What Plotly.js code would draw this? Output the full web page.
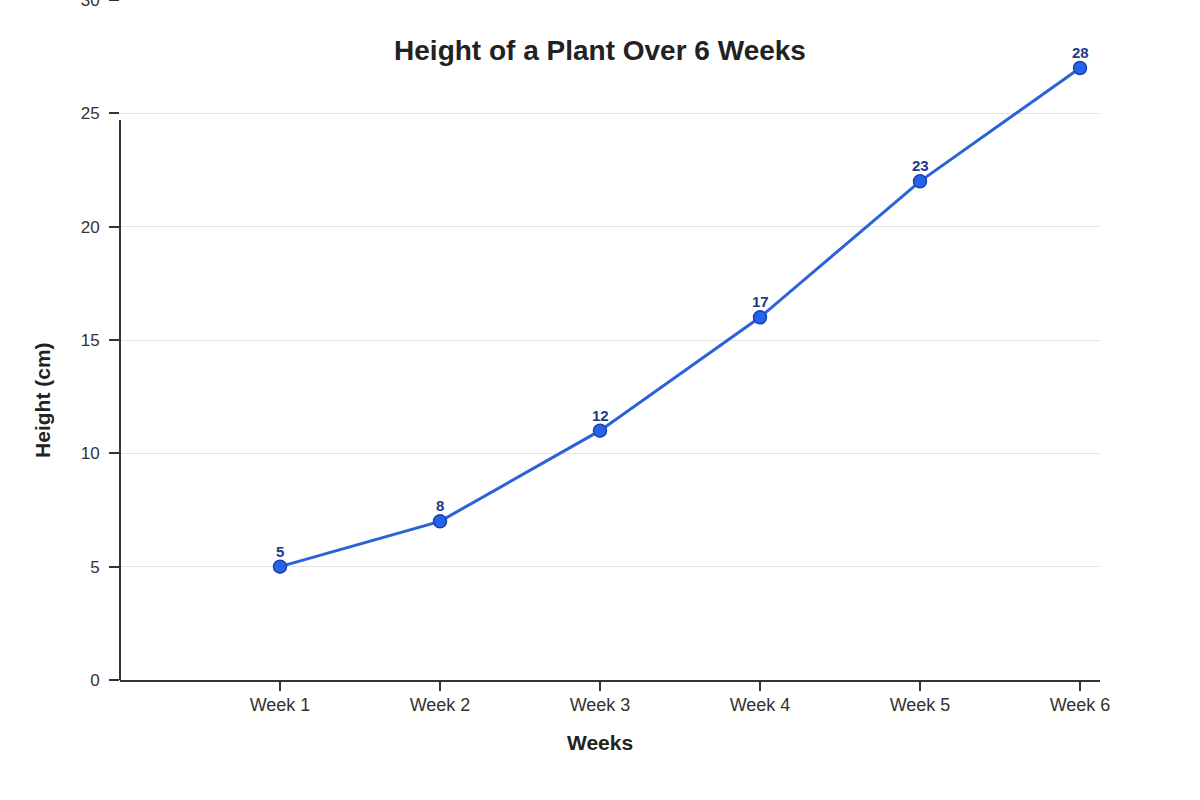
<!DOCTYPE html>
<html>
<head>
<meta charset="utf-8">
<script src="https://cdn.plot.ly/plotly-3.0.1.min.js"></script>
<style>
  html, body { margin: 0; padding: 0; background: #fff; }
  #plot { width: 1200px; height: 800px; }
</style>
</head>
<body>
<div id="plot"></div>
<script>
// Chart data
var weeks = ["Week 1", "Week 2", "Week 3", "Week 4", "Week 5", "Week 6"];
var heights = [5, 7, 11, 16, 22, 27];
var pointLabels = ["5", "8", "12", "17", "23", "28"];

var trace = {
  x: weeks,
  y: heights,
  mode: "lines+markers",
  type: "scatter",
  line: { color: "#2a62d8", width: 3 },
  marker: { color: "#2563eb", size: 13, line: { color: "#1e40af", width: 1.5 } },
  cliponaxis: false,
  hoverinfo: "x+y"
};

// value labels sit just above each point
var labelNotes = weeks.map(function (w, i) {
  return {
    x: w,
    y: heights[i],
    text: "<b>" + pointLabels[i] + "</b>",
    showarrow: false,
    xanchor: "center",
    yanchor: "bottom",
    yshift: 5,
    font: { size: 15, color: "#1e3a8a" }
  };
});

var layout = {
  width: 1200,
  height: 800,
  paper_bgcolor: "#fff",
  plot_bgcolor: "#fff",
  font: { family: "Liberation Sans, Arial, sans-serif", color: "#333" },
  margin: { l: 120, r: 100, t: 0, b: 120 },
  showlegend: false,
  title: {
    text: "<b>Height of a Plant Over 6 Weeks</b>",
    font: { size: 28, color: "#222" },
    x: 0.5, xref: "container", xanchor: "center",
    y: 0.9375, yref: "container", yanchor: "middle"
  },
  xaxis: {
    type: "category",
    range: [-1, 5.125],
    showgrid: false,
    zeroline: false,
    showline: true,
    linecolor: "#333",
    linewidth: 2,
    ticks: "outside",
    ticklen: 9,
    tickwidth: 2,
    tickcolor: "#333",
    ticklabelstandoff: -2,
    tickfont: { size: 18, color: "#333" }
  },
  yaxis: {
    range: [0, 30],
    dtick: 5,
    showgrid: true,
    gridcolor: "#e3e3e3",
    gridwidth: 1,
    zeroline: false,
    showline: false,
    ticks: "outside",
    ticklen: 10,
    tickwidth: 2,
    tickcolor: "#333",
    ticklabelstandoff: 6,
    ticklabeloverflow: "allow",
    tickfont: { size: 17, color: "#333" }
  },
  annotations: labelNotes.concat([{
    text: "<b>Height (cm)</b>",
    textangle: -90,
    font: { size: 21, color: "#222" },
    xref: "paper", yref: "paper",
    x: -0.0786, y: 0.4118,
    xanchor: "center", yanchor: "middle",
    showarrow: false
  }, {
    text: "<b>Weeks</b>",
    font: { size: 21, color: "#222" },
    xref: "paper", yref: "paper",
    x: 0.4898, y: -0.0912,
    xanchor: "center", yanchor: "middle",
    showarrow: false
  }]),
  shapes: [{
    type: "line",
    xref: "paper", yref: "paper",
    x0: 0, x1: 0, y0: 0, y1: 0.8235,
    line: { color: "#333", width: 2 }
  }]
};

Plotly.newPlot("plot", [trace], layout, { displayModeBar: false, staticPlot: true });
</script>
</body>
</html>
